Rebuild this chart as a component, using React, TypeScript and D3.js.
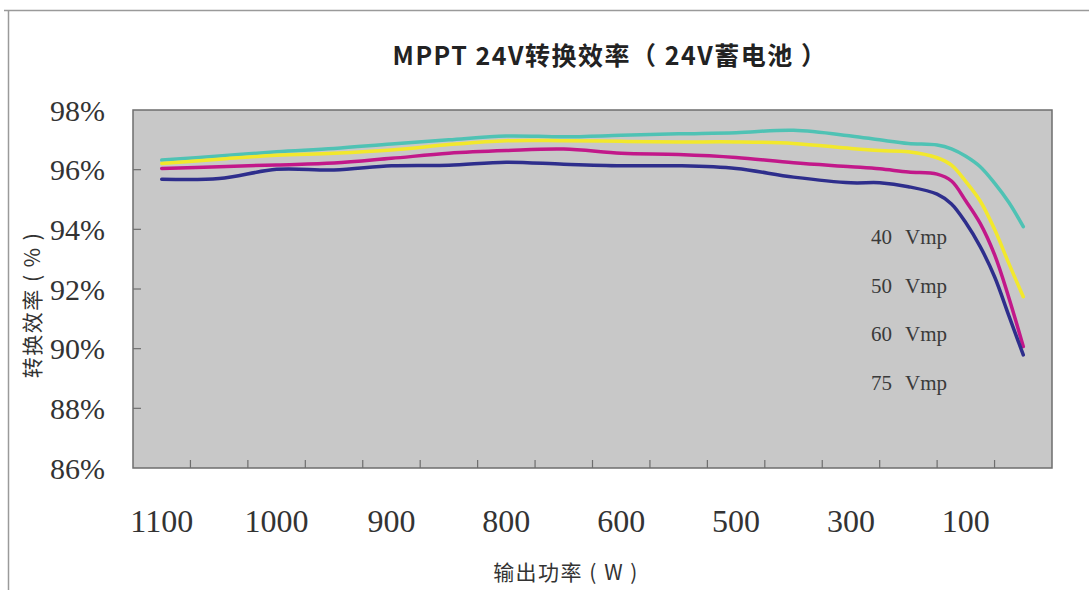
import * as d3 from "d3";

// x categories (output power, W) – one label every two tick intervals
const powerLabels = ["1100", "1000", "900", "800", "600", "500", "300", "100"];
// sample positions along the x axis, in tick-interval units (0..16)
const slots = [0.5, 1.5, 2.5, 3.5, 4.5, 5.5, 6.5, 7.5, 8.5, 9.5, 10.5, 11.5, 12.5, 13, 13.5, 14, 14.25, 14.5, 14.75, 15, 15.25, 15.5];

const vmp40 = [96.32, 96.46, 96.6, 96.71, 96.86, 97.0, 97.13, 97.1, 97.15, 97.2, 97.24, 97.32, 97.13, 97.0, 96.88, 96.83, 96.7, 96.45, 96.1, 95.55, 94.9, 94.09];
const vmp50 = [96.21, 96.35, 96.48, 96.55, 96.66, 96.84, 96.97, 96.97, 96.95, 96.93, 96.93, 96.88, 96.71, 96.64, 96.6, 96.4, 96.15, 95.6, 94.95, 94.0, 92.85, 91.74];
const vmp60 = [96.04, 96.1, 96.16, 96.22, 96.38, 96.55, 96.64, 96.69, 96.55, 96.51, 96.41, 96.23, 96.1, 96.03, 95.92, 95.85, 95.62, 94.95, 94.2, 93.15, 91.7, 90.07];
const vmp75 = [95.68, 95.7, 96.01, 95.99, 96.13, 96.15, 96.25, 96.18, 96.13, 96.13, 96.04, 95.75, 95.56, 95.56, 95.43, 95.18, 94.85, 94.22, 93.42, 92.41, 91.1, 89.79];

const seriesNames = ["40 Vmp", "50 Vmp", "60 Vmp", "75 Vmp"];
const seriesValues = [vmp40, vmp50, vmp60, vmp75];
const seriesColors = ["#4fc2b4", "#f2e82c", "#c2188a", "#2e2e8c"];

const yTicks = [98, 96, 94, 92, 90, 88, 86];

export default function App() {
  const width = 1089;
  const height = 590;
  const left = 133;
  const right = 1052;
  const top = 110;
  const bottom = 468;

  const x = d3.scaleLinear([0, 16], [left, right]);
  const y = d3.scaleLinear([86, 98], [bottom, top]);
  const line = d3
    .line<number>()
    .x((_, i) => x(slots[i]))
    .y((d) => y(d))
    .curve(d3.curveCatmullRom.alpha(0.5));

  const serif = "'Liberation Serif', 'DejaVu Serif', serif";
  const sans = "'Noto Sans CJK SC', 'Noto Sans', sans-serif";
  const xTickIdx = d3.range(1, 16);

  return (
    <svg
      width={width}
      height={height}
      style={{ position: "absolute", left: 0, top: 0, background: "#fff" }}
    >
      {/* outer frame */}
      <path d={`M4,10.5H${width}M8.5,10.5V${height}`} stroke="#9a9a9a" strokeWidth={1.5} fill="none" />

      <text x={610} y={65} textAnchor="middle" fontFamily={sans} fontWeight="bold" fontSize={25} fill="#222" letterSpacing={1.5}>
        MPPT 24V转换效率（ 24V蓄电池 ）
      </text>

      <rect x={left} y={top} width={right - left} height={bottom - top} fill="#c8c8c8" stroke="#6e6e6e" strokeWidth={1.5} />

      {/* y ticks */}
      {yTicks.map((t) => (
        <g key={t}>
          {t > 86 && t < 98 && (
            <line x1={left} x2={left + 8} y1={y(t)} y2={y(t)} stroke="#6e6e6e" strokeWidth={1.2} />
          )}
          <text x={105} y={y(t)} dy="0.35em" textAnchor="end" fontFamily={serif} fontSize={30} fill="#333">
            {t}%
          </text>
        </g>
      ))}

      {/* x ticks */}
      {xTickIdx.map((i) => (
        <line key={i} x1={x(i)} x2={x(i)} y1={bottom} y2={bottom - 8} stroke="#6e6e6e" strokeWidth={1.2} />
      ))}
      {powerLabels.map((p, i) => (
        <text key={p} x={x(0.5 + 2 * i)} y={532} textAnchor="middle" fontFamily={serif} fontSize={32} fill="#333">
          {p}
        </text>
      ))}

      {/* series */}
      {seriesValues.map((vals, k) => (
        <path key={k} d={line(vals) ?? ""} fill="none" stroke={seriesColors[k]} strokeWidth={3.5} strokeLinecap="round" />
      ))}

      {/* labels */}
      {seriesNames.map((name, k) => {
        const [num, unit] = name.split(" ");
        return (
          <text key={name} x={871} y={244 + k * 48.5} fontFamily={serif} fontSize={21} fill="#3a3a3a">
            <tspan>{num}</tspan>
            <tspan x={905}>{unit}</tspan>
          </text>
        );
      })}

      <text
        transform={`translate(40,305) rotate(-90)`}
        textAnchor="middle"
        fontFamily={sans}
        fontSize={21}
        fill="#333"
        letterSpacing={1.5}
        style={{ whiteSpace: "pre" }}
      >
        转换效率 ( % )
      </text>
      <text x={566} y={580} textAnchor="middle" fontFamily={sans} fontSize={21} fill="#333" letterSpacing={1.5} style={{ whiteSpace: "pre" }}>
        输出功率 ( W )
      </text>
    </svg>
  );
}
